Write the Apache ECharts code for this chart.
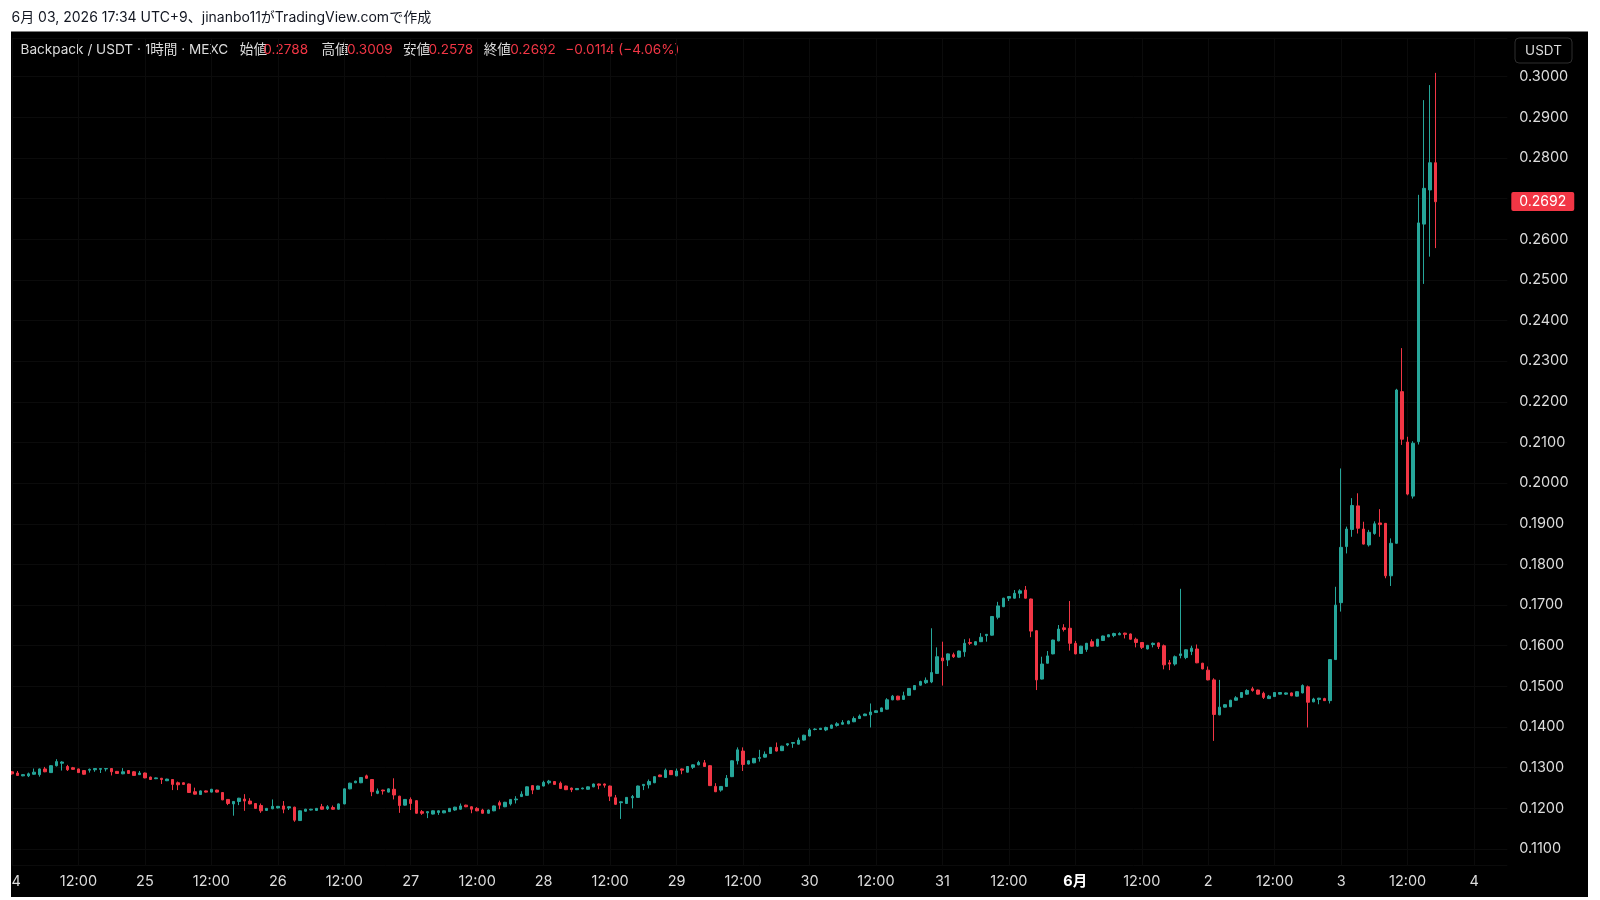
<!DOCTYPE html>
<html>
<head>
<meta charset="utf-8">
<script src="https://cdn.jsdelivr.net/npm/echarts@6/dist/echarts.min.js"></script>
<style>
html, body { margin: 0; padding: 0; background: #fff; }
#main { width: 1600px; height: 900px; }
</style>
</head>
<body>
<div id="main"></div>
<script>
// 1h candles, each row = [open, close, low, high]
var may24 = [
  [0.1290, 0.1285, 0.1283, 0.1292], [0.1287, 0.1281, 0.1280, 0.1292], [0.1280, 0.1283, 0.1279, 0.1284], [0.1280, 0.1285, 0.1277, 0.1288],
  [0.1284, 0.1289, 0.1283, 0.1298], [0.1283, 0.1297, 0.1278, 0.1298], [0.1297, 0.1290, 0.1289, 0.1302], [0.1288, 0.1305, 0.1287, 0.1306],
  [0.1305, 0.1315, 0.1303, 0.1321], [0.1311, 0.1314, 0.1293, 0.1316], [0.1303, 0.1295, 0.1292, 0.1307], [0.1300, 0.1296, 0.1295, 0.1302],
  [0.1297, 0.1288, 0.1287, 0.1298], [0.1293, 0.1284, 0.1283, 0.1294], [0.1294, 0.1296, 0.1288, 0.1298], [0.1295, 0.1298, 0.1290, 0.1299],
  [0.1296, 0.1298, 0.1287, 0.1299], [0.1297, 0.1298, 0.1291, 0.1299], [0.1298, 0.1290, 0.1281, 0.1299], [0.1291, 0.1286, 0.1285, 0.1292],
  [0.1285, 0.1290, 0.1284, 0.1299], [0.1293, 0.1286, 0.1285, 0.1294], [0.1290, 0.1281, 0.1280, 0.1292], [0.1283, 0.1287, 0.1282, 0.1292]
];
var may25 = [
  [0.1287, 0.1275, 0.1274, 0.1288], [0.1277, 0.1271, 0.1270, 0.1278], [0.1273, 0.1275, 0.1272, 0.1276], [0.1274, 0.1271, 0.1260, 0.1275],
  [0.1268, 0.1272, 0.1267, 0.1273], [0.1271, 0.1259, 0.1245, 0.1272], [0.1263, 0.1258, 0.1245, 0.1266], [0.1263, 0.1259, 0.1258, 0.1264],
  [0.1260, 0.1239, 0.1238, 0.1261], [0.1241, 0.1235, 0.1234, 0.1251], [0.1234, 0.1243, 0.1233, 0.1244], [0.1243, 0.1240, 0.1239, 0.1244],
  [0.1240, 0.1247, 0.1239, 0.1248], [0.1245, 0.1240, 0.1239, 0.1246], [0.1239, 0.1221, 0.1220, 0.1240], [0.1222, 0.1212, 0.1208, 0.1223],
  [0.1211, 0.1217, 0.1182, 0.1218], [0.1217, 0.1225, 0.1208, 0.1226], [0.1223, 0.1218, 0.1194, 0.1235], [0.1218, 0.1211, 0.1210, 0.1225],
  [0.1212, 0.1200, 0.1199, 0.1213], [0.1207, 0.1194, 0.1189, 0.1212], [0.1195, 0.1200, 0.1194, 0.1201], [0.1199, 0.1205, 0.1198, 0.1222]
];
var may26 = [
  [0.1201, 0.1205, 0.1200, 0.1206], [0.1206, 0.1198, 0.1188, 0.1218], [0.1201, 0.1204, 0.1196, 0.1205], [0.1203, 0.1171, 0.1167, 0.1204],
  [0.1170, 0.1194, 0.1169, 0.1195], [0.1193, 0.1198, 0.1192, 0.1199], [0.1196, 0.1198, 0.1195, 0.1199], [0.1195, 0.1200, 0.1194, 0.1201],
  [0.1204, 0.1198, 0.1197, 0.1211], [0.1199, 0.1204, 0.1196, 0.1208], [0.1202, 0.1198, 0.1197, 0.1207], [0.1198, 0.1211, 0.1197, 0.1212],
  [0.1211, 0.1248, 0.1210, 0.1249], [0.1248, 0.1262, 0.1247, 0.1263], [0.1263, 0.1267, 0.1262, 0.1268], [0.1263, 0.1276, 0.1262, 0.1277],
  [0.1280, 0.1274, 0.1273, 0.1283], [0.1271, 0.1241, 0.1230, 0.1272], [0.1237, 0.1243, 0.1235, 0.1249], [0.1245, 0.1243, 0.1234, 0.1246],
  [0.1240, 0.1248, 0.1239, 0.1249], [0.1247, 0.1233, 0.1222, 0.1274], [0.1230, 0.1207, 0.1189, 0.1231], [0.1208, 0.1222, 0.1207, 0.1223]
];
var may27 = [
  [0.1222, 0.1212, 0.1196, 0.1227], [0.1219, 0.1188, 0.1187, 0.1220], [0.1192, 0.1188, 0.1184, 0.1196], [0.1189, 0.1192, 0.1176, 0.1193],
  [0.1186, 0.1194, 0.1185, 0.1195], [0.1190, 0.1194, 0.1184, 0.1195], [0.1189, 0.1194, 0.1188, 0.1195], [0.1192, 0.1200, 0.1191, 0.1201],
  [0.1196, 0.1203, 0.1194, 0.1204], [0.1198, 0.1206, 0.1197, 0.1212], [0.1208, 0.1204, 0.1203, 0.1209], [0.1204, 0.1198, 0.1188, 0.1205],
  [0.1200, 0.1194, 0.1193, 0.1203], [0.1196, 0.1188, 0.1187, 0.1199], [0.1188, 0.1196, 0.1187, 0.1197], [0.1194, 0.1206, 0.1193, 0.1207],
  [0.1214, 0.1208, 0.1198, 0.1219], [0.1204, 0.1215, 0.1203, 0.1216], [0.1211, 0.1222, 0.1207, 0.1223], [0.1221, 0.1223, 0.1212, 0.1230],
  [0.1229, 0.1235, 0.1228, 0.1242], [0.1232, 0.1253, 0.1231, 0.1254], [0.1256, 0.1245, 0.1235, 0.1257], [0.1247, 0.1255, 0.1246, 0.1256]
];
var may28 = [
  [0.1255, 0.1264, 0.1254, 0.1268], [0.1263, 0.1267, 0.1259, 0.1270], [0.1266, 0.1259, 0.1258, 0.1267], [0.1262, 0.1249, 0.1248, 0.1266],
  [0.1255, 0.1246, 0.1245, 0.1256], [0.1250, 0.1246, 0.1240, 0.1251], [0.1246, 0.1249, 0.1245, 0.1250], [0.1248, 0.1250, 0.1247, 0.1251],
  [0.1247, 0.1253, 0.1246, 0.1254], [0.1253, 0.1260, 0.1252, 0.1261], [0.1260, 0.1257, 0.1247, 0.1261], [0.1260, 0.1257, 0.1251, 0.1261],
  [0.1255, 0.1230, 0.1218, 0.1256], [0.1226, 0.1210, 0.1209, 0.1233], [0.1214, 0.1216, 0.1174, 0.1217], [0.1212, 0.1227, 0.1211, 0.1228],
  [0.1226, 0.1229, 0.1200, 0.1233], [0.1227, 0.1255, 0.1226, 0.1256], [0.1256, 0.1259, 0.1245, 0.1260], [0.1258, 0.1266, 0.1249, 0.1271],
  [0.1263, 0.1278, 0.1262, 0.1279], [0.1282, 0.1278, 0.1277, 0.1283], [0.1276, 0.1294, 0.1275, 0.1298], [0.1293, 0.1283, 0.1282, 0.1294]
];
var may29 = [
  [0.1280, 0.1292, 0.1279, 0.1298], [0.1297, 0.1294, 0.1284, 0.1298], [0.1289, 0.1303, 0.1288, 0.1304], [0.1301, 0.1307, 0.1297, 0.1308],
  [0.1307, 0.1313, 0.1306, 0.1317], [0.1312, 0.1303, 0.1302, 0.1319], [0.1305, 0.1256, 0.1255, 0.1306], [0.1254, 0.1241, 0.1240, 0.1262],
  [0.1245, 0.1254, 0.1241, 0.1255], [0.1254, 0.1274, 0.1253, 0.1282], [0.1278, 0.1317, 0.1277, 0.1318], [0.1317, 0.1344, 0.1308, 0.1350],
  [0.1341, 0.1308, 0.1292, 0.1350], [0.1309, 0.1317, 0.1308, 0.1318], [0.1312, 0.1323, 0.1311, 0.1324], [0.1323, 0.1325, 0.1315, 0.1344],
  [0.1326, 0.1333, 0.1325, 0.1340], [0.1335, 0.1350, 0.1334, 0.1351], [0.1350, 0.1341, 0.1340, 0.1362], [0.1342, 0.1353, 0.1341, 0.1354],
  [0.1356, 0.1359, 0.1353, 0.1360], [0.1360, 0.1362, 0.1349, 0.1363], [0.1358, 0.1368, 0.1357, 0.1374], [0.1368, 0.1380, 0.1367, 0.1381]
];
var may30 = [
  [0.1378, 0.1393, 0.1377, 0.1397], [0.1394, 0.1395, 0.1392, 0.1397], [0.1394, 0.1397, 0.1393, 0.1398], [0.1393, 0.1399, 0.1390, 0.1401],
  [0.1397, 0.1405, 0.1396, 0.1406], [0.1404, 0.1408, 0.1401, 0.1412], [0.1407, 0.1411, 0.1406, 0.1417], [0.1408, 0.1415, 0.1407, 0.1416],
  [0.1413, 0.1421, 0.1412, 0.1426], [0.1421, 0.1427, 0.1420, 0.1431], [0.1428, 0.1432, 0.1427, 0.1433], [0.1430, 0.1437, 0.1399, 0.1458],
  [0.1436, 0.1440, 0.1435, 0.1441], [0.1438, 0.1447, 0.1437, 0.1448], [0.1444, 0.1467, 0.1443, 0.1471], [0.1467, 0.1476, 0.1466, 0.1479],
  [0.1476, 0.1467, 0.1466, 0.1477], [0.1468, 0.1477, 0.1467, 0.1487], [0.1478, 0.1495, 0.1477, 0.1496], [0.1492, 0.1502, 0.1491, 0.1503],
  [0.1503, 0.1512, 0.1502, 0.1514], [0.1509, 0.1515, 0.1506, 0.1522], [0.1511, 0.1534, 0.1508, 0.1643], [0.1532, 0.1573, 0.1531, 0.1596]
];
var may31 = [
  [0.1570, 0.1563, 0.1502, 0.1610], [0.1565, 0.1580, 0.1550, 0.1581], [0.1578, 0.1573, 0.1570, 0.1583], [0.1572, 0.1587, 0.1571, 0.1588],
  [0.1585, 0.1606, 0.1573, 0.1616], [0.1608, 0.1606, 0.1602, 0.1618], [0.1602, 0.1610, 0.1601, 0.1611], [0.1610, 0.1621, 0.1609, 0.1631],
  [0.1625, 0.1628, 0.1610, 0.1629], [0.1626, 0.1672, 0.1625, 0.1673], [0.1670, 0.1698, 0.1665, 0.1708], [0.1696, 0.1717, 0.1695, 0.1718],
  [0.1717, 0.1721, 0.1710, 0.1722], [0.1717, 0.1729, 0.1716, 0.1737], [0.1729, 0.1735, 0.1717, 0.1739], [0.1737, 0.1717, 0.1716, 0.1747],
  [0.1715, 0.1636, 0.1621, 0.1716], [0.1637, 0.1516, 0.1491, 0.1638], [0.1518, 0.1555, 0.1517, 0.1573], [0.1557, 0.1575, 0.1556, 0.1587],
  [0.1580, 0.1614, 0.1579, 0.1615], [0.1612, 0.1641, 0.1611, 0.1651], [0.1644, 0.1640, 0.1635, 0.1653], [0.1643, 0.1606, 0.1588, 0.1710]
];
var jun01 = [
  [0.1606, 0.1580, 0.1579, 0.1612], [0.1581, 0.1599, 0.1580, 0.1600], [0.1591, 0.1606, 0.1585, 0.1607], [0.1610, 0.1599, 0.1598, 0.1616],
  [0.1599, 0.1616, 0.1598, 0.1617], [0.1613, 0.1624, 0.1612, 0.1625], [0.1622, 0.1627, 0.1621, 0.1628], [0.1625, 0.1630, 0.1621, 0.1632],
  [0.1627, 0.1630, 0.1626, 0.1633], [0.1631, 0.1628, 0.1618, 0.1632], [0.1629, 0.1616, 0.1615, 0.1630], [0.1616, 0.1608, 0.1596, 0.1620],
  [0.1608, 0.1596, 0.1592, 0.1609], [0.1592, 0.1601, 0.1591, 0.1602], [0.1603, 0.1606, 0.1596, 0.1608], [0.1607, 0.1598, 0.1592, 0.1608],
  [0.1600, 0.1553, 0.1542, 0.1603], [0.1558, 0.1555, 0.1540, 0.1565], [0.1555, 0.1573, 0.1551, 0.1576], [0.1576, 0.1580, 0.1569, 0.1740],
  [0.1571, 0.1590, 0.1567, 0.1591], [0.1586, 0.1594, 0.1577, 0.1600], [0.1592, 0.1558, 0.1557, 0.1603], [0.1557, 0.1543, 0.1542, 0.1558]
];
var jun02 = [
  [0.1540, 0.1516, 0.1515, 0.1549], [0.1516, 0.1431, 0.1366, 0.1520], [0.1430, 0.1449, 0.1429, 0.1516], [0.1449, 0.1455, 0.1448, 0.1456],
  [0.1450, 0.1466, 0.1449, 0.1467], [0.1466, 0.1472, 0.1465, 0.1476], [0.1473, 0.1485, 0.1472, 0.1486], [0.1481, 0.1490, 0.1479, 0.1493],
  [0.1494, 0.1490, 0.1487, 0.1499], [0.1491, 0.1481, 0.1480, 0.1492], [0.1483, 0.1473, 0.1469, 0.1487], [0.1470, 0.1476, 0.1469, 0.1479],
  [0.1475, 0.1485, 0.1474, 0.1486], [0.1481, 0.1485, 0.1480, 0.1486], [0.1481, 0.1484, 0.1479, 0.1485], [0.1484, 0.1477, 0.1476, 0.1485],
  [0.1476, 0.1487, 0.1475, 0.1488], [0.1484, 0.1502, 0.1483, 0.1505], [0.1499, 0.1461, 0.1399, 0.1502], [0.1462, 0.1469, 0.1461, 0.1472],
  [0.1468, 0.1471, 0.1456, 0.1472], [0.1470, 0.1465, 0.1464, 0.1472], [0.1465, 0.1566, 0.1458, 0.1567], [0.1566, 0.1700, 0.1565, 0.1745]
];
var jun03 = [
  [0.1706, 0.1842, 0.1684, 0.2036], [0.1844, 0.1887, 0.1827, 0.1893], [0.1886, 0.1945, 0.1868, 0.1963], [0.1944, 0.1889, 0.1876, 0.1975],
  [0.1887, 0.1850, 0.1849, 0.1905], [0.1848, 0.1879, 0.1844, 0.1885], [0.1876, 0.1900, 0.1873, 0.1906], [0.1902, 0.1898, 0.1868, 0.1936],
  [0.1901, 0.1772, 0.1766, 0.1902], [0.1772, 0.1852, 0.1747, 0.1864], [0.1852, 0.2229, 0.1851, 0.2232], [0.2225, 0.2108, 0.2094, 0.2332],
  [0.2101, 0.1973, 0.1970, 0.2114], [0.1968, 0.2098, 0.1962, 0.2103], [0.2102, 0.2640, 0.2095, 0.2709], [0.2637, 0.2725, 0.2490, 0.2942],
  [0.2721, 0.2788, 0.2557, 0.2979], [0.2788, 0.2692, 0.2578, 0.3009]
];

// axis labels: one per day, the month start shown as "6月"
var dayLabels = ['24', '25', '26', '27', '28', '29', '30', '31', '6月', '2', '3', '4'];
var slotCount = 271; // 24th 00:00 ... 4th 06:00 (empty space right of last candle)
var lastPrice = 0.2692;

var topLine = '6月 03, 2026 17:34 UTC+9、jinanbo11がTradingView.comで作成';
var symbolText = 'Backpack / USDT · 1時間 · MEXC';
var ohlcNames = ['始値', '高値', '安値', '終値'];
var ohlcValues = ['0.2788', '0.3009', '0.2578', '0.2692'];
var changeText = '−0.0114 (−4.06%)';

var FONT = 'Inter, "Noto Sans CJK JP", sans-serif';
var UP = '#26a69a', DOWN = '#f23645', TXT = '#dcdcdc';
var GRID = '#0b0b0b';

var candles = [].concat(may24, may25, may26, may27, may28, may29, may30, may31, jun01, jun02, jun03);

var categories = [];
var labelOf = [];
for (var i = 0; i < slotCount; i++) {
    var d = Math.floor(i / 24), h = i % 24;
    categories.push(dayLabels[d] + ' ' + (h < 10 ? '0' + h : h) + ':00');
    labelOf.push(h === 0 ? dayLabels[d] : (h === 12 ? '12:00' : ''));
}
function isTick(idx) { return labelOf[idx] !== ''; }

// header layout
var headerX = [239.8, 263.3, 321.4, 347, 403, 428.6, 483.7, 510.2];
function headText(x, text, color) {
    return { type: 'text', x: x, y: 49.5, style: { text: text, fill: color, fontSize: 13.6, fontFamily: FONT, verticalAlign: 'middle' } };
}
var headerItems = [headText(20.5, symbolText, TXT)];
for (var k = 0; k < 4; k++) {
    headerItems.push(headText(headerX[k * 2], ohlcNames[k], TXT));
    headerItems.push(headText(headerX[k * 2 + 1], ohlcValues[k], DOWN));
}
headerItems.push(headText(565.3, changeText, DOWN));

var chart = echarts.init(document.getElementById('main'));

var option = {
    backgroundColor: '#ffffff',
    animation: false,
    graphic: [
        { type: 'rect', z: -100, silent: true, shape: { x: 11, y: 31.5, width: 1577, height: 865.5 }, style: { fill: '#000000' } },
        { type: 'rect', z: 100, silent: true, shape: { x: 0, y: 30, width: 11, height: 870 }, style: { fill: '#ffffff' } },
        { type: 'text', x: 11.5, y: 17.5, style: { text: topLine, fill: '#131722', fontSize: 14, fontFamily: FONT, verticalAlign: 'middle' } },
        { type: 'rect', z: 50, shape: { x: 1515, y: 38, width: 57, height: 25, r: 4 }, style: { fill: '#000000', stroke: '#2e2e2e', lineWidth: 1 } },
        { type: 'text', z: 51, x: 1543.5, y: 50.5, style: { text: 'USDT', fill: TXT, fontSize: 13.5, fontFamily: FONT, align: 'center', verticalAlign: 'middle' } }
    ].concat(headerItems),
    grid: { left: 11, top: 37.9, width: 1496.3, height: 827.4, containLabel: false },
    xAxis: {
        type: 'category',
        data: categories,
        boundaryGap: false,
        axisLine: { show: false },
        axisTick: { show: false },
        axisLabel: {
            interval: function (idx) { return isTick(idx); },
            formatter: function (v, idx) {
                var t = labelOf[idx];
                return t === '6月' ? '{b|6月}' : t;
            },
            color: TXT,
            fontSize: 14.5,
            fontFamily: FONT,
            margin: 9,
            rich: { b: { fontWeight: 'bold', color: '#ffffff', fontSize: 14.5, fontFamily: FONT } }
        },
        splitLine: { show: true, interval: function (idx) { return isTick(idx); }, lineStyle: { color: GRID, width: 1 } }
    },
    yAxis: {
        type: 'value',
        position: 'right',
        min: 0.106,
        max: 0.3095,
        splitNumber: 20,
        axisLine: { show: false },
        axisTick: { show: false },
        axisLabel: {
            showMinLabel: false,
            showMaxLabel: false,
            color: TXT,
            fontSize: 14.5,
            fontFamily: FONT,
            margin: 12,
            formatter: function (v) { return (v < 0.1095 || v > 0.3005) ? '' : v.toFixed(4); }
        },
        splitLine: { show: true, lineStyle: { color: GRID, width: 1 } }
    },
    series: [{
        type: 'candlestick',
        data: candles,
        clip: false,
        barWidth: 3,
        itemStyle: { color: UP, color0: DOWN, borderColor: UP, borderColor0: DOWN, borderWidth: 1 },
        markLine: {
            silent: true,
            symbol: ['none', 'none'],
            lineStyle: { color: 'rgba(0,0,0,0)', width: 0 },
            label: {
                show: true,
                position: 'end',
                formatter: lastPrice.toFixed(4),
                backgroundColor: DOWN,
                color: '#ffffff',
                fontSize: 14,
                fontFamily: FONT,
                padding: [3, 8, 2, 8],
                borderRadius: 2,
                distance: 4,
                offset: [0, 3]
            },
            data: [{ yAxis: lastPrice }]
        }
    }]
};

chart.setOption(option);
</script>
</body>
</html>
